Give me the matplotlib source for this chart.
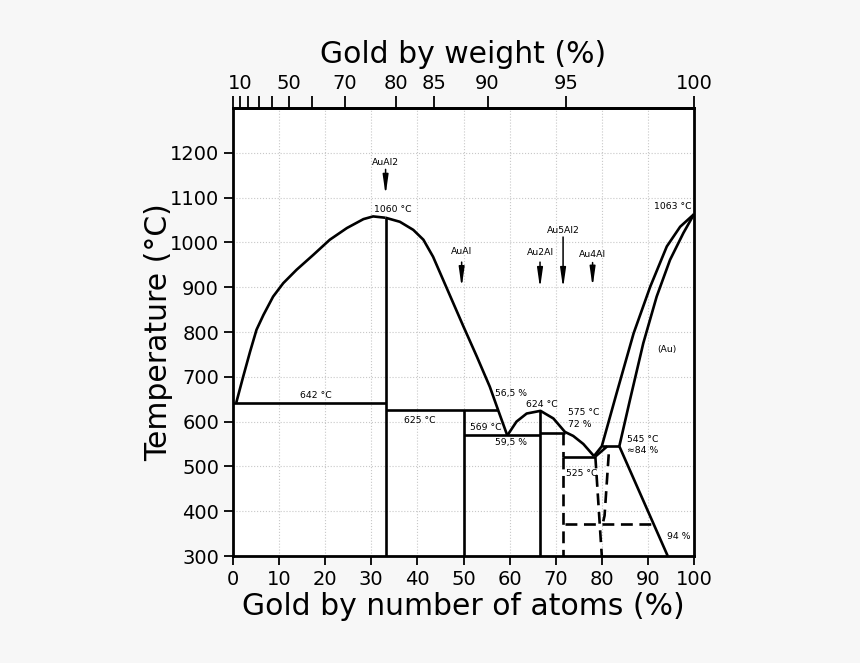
import numpy as np
import matplotlib
matplotlib.use('Agg')
import matplotlib.pyplot as plt

# ---------------- data (atomic % Au, temperature in °C) ----------------
liq_left_at = [0.7, 2.2, 3.7, 5.1, 6.6, 8.7, 10.9, 13.8, 17.4, 21.0, 24.7, 28.3, 30.4, 33.1]
liq_left_T = [642, 700, 756, 805, 838, 879, 909, 939, 972, 1006, 1032, 1052, 1058, 1055]

liq_mid_at = [33.1, 36.2, 39.1, 41.3, 43.4, 45.6, 47.8, 50.0, 52.9, 55.7, 57.5, 59.5]
liq_mid_T = [1055, 1046, 1028, 1006, 968, 916, 864, 812, 745, 678, 626, 569]

bump_at = [59.5, 61.5, 63.7, 66.7, 69.5, 72.0, 73.8, 76.0, 78.3]
bump_T = [569, 600, 618, 624, 607, 577, 568, 550, 523]

liq_right_at = [78.3, 80.0, 83.2, 86.9, 90.5, 94.1, 97.0, 100.0]
liq_right_T = [523, 545, 663, 797, 901, 991, 1035, 1063]

sol_right_at = [83.8, 86.1, 89.0, 91.9, 94.8, 97.7, 100.0]
sol_right_T = [545, 648, 775, 879, 961, 1021, 1063]

solvus_at = [83.8, 94.3]
solvus_T = [545, 300]

au4al_at = [78.6, 81.2]
au4al_T = [522, 545]

iso_T = [642, 625, 569, 575, 522, 545]
iso_start = [0.0, 33.1, 50.0, 66.7, 71.6, 80.0]
iso_end = [33.1, 57.5, 66.7, 72.0, 78.6, 83.8]

comp_at = [33.1, 50.0, 66.7]
comp_top = [1055, 625, 624]

dash_lines_at = [[71.6, 71.6], [71.6, 71.6], [78.6, 80.0], [81.5, 80.6, 80.2], [72.0, 91.3]]
dash_lines_T = [[575, 522], [522, 300], [522, 300], [527, 390, 372], [371, 371]]

phase_names = ['AuAl2', 'AuAl', 'Au2Al', 'Au5Al2', 'Au4Al']
phase_at = [33.1, 49.6, 66.6, 71.6, 78.0]
phase_text_T = [1178, 980, 977, 1026, 972]
phase_tail_T = [1163, 956, 956, 1012, 955]
phase_tip_T = [1106, 900, 898, 898, 901]

note_texts = ['1060 °C', '642 °C', '625 °C', '569 °C', '56,5 %', '624 °C', '59,5 %',
              '525 °C', '94 %', '1063 °C', '(Au)']
note_at = [34.6, 17.9, 40.5, 54.8, 60.4, 67.0, 60.2, 75.6, 96.7, 95.3, 94.1]
note_T = [1074, 659, 602, 586, 662, 639, 554, 485, 343, 1080, 760]

left_texts = ['575 °C', '72 %', '545 °C', '≈84 %']
left_at = [72.7, 72.7, 85.4, 85.4]
left_T = [621, 594, 559, 535]

x_ticks = [0, 10, 20, 30, 40, 50, 60, 70, 80, 90, 100]
y_ticks = [300, 400, 500, 600, 700, 800, 900, 1000, 1100, 1200]
wt_ticks = [0, 10, 20, 30, 40, 50, 60, 70, 80, 85, 90, 95, 100]
wt_labels = ['', '10', '', '', '', '50', '', '70', '80', '85', '90', '95', '100']

M_AU, M_AL = 196.97, 26.98


def at_to_wt(a):
    a = np.clip(np.asarray(a, dtype=float), 0, 100)
    return 100 * a * M_AU / (a * M_AU + (100 - a) * M_AL)


def wt_to_at(w):
    w = np.clip(np.asarray(w, dtype=float), 0, 100)
    return 100 * (w / M_AU) / (w / M_AU + (100 - w) / M_AL)


# ---------------- figure ----------------
fig = plt.figure(figsize=(8.6, 6.63), dpi=100, facecolor='#f7f7f7')
ax = fig.add_axes([233 / 860, 1 - 556 / 663, 461 / 860, 448 / 663])
ax.set_facecolor('white')
ax.set_xlim(0, 100)
ax.set_ylim(300, 1300)

lw = 1.9
kw = dict(color='black', lw=lw, solid_capstyle='butt', solid_joinstyle='round')
for xs, ys in [(liq_left_at, liq_left_T), (liq_mid_at, liq_mid_T), (bump_at, bump_T),
               (liq_right_at, liq_right_T), (sol_right_at, sol_right_T),
               (solvus_at, solvus_T), (au4al_at, au4al_T)]:
    ax.plot(xs, ys, **kw)

for T, a0, a1 in zip(iso_T, iso_start, iso_end):
    ax.plot([a0, a1], [T, T], **kw)

for a, top in zip(comp_at, comp_top):
    ax.plot([a, a], [300, top], **kw)

for xs, ys in zip(dash_lines_at, dash_lines_T):
    ax.plot(xs, ys, color='black', lw=lw, linestyle=(0, (4.5, 2.5)), dash_capstyle='butt')

small = 6.7
for name, a, tT, t0, t1 in zip(phase_names, phase_at, phase_text_T, phase_tail_T, phase_tip_T):
    ax.text(a, tT, name, ha='center', va='center', fontsize=small)
    ax.annotate('', xy=(a, t1), xytext=(a, t0),
                arrowprops=dict(arrowstyle='-|>,head_length=1.05,head_width=0.15',
                                color='black', lw=1.1, mutation_scale=11,
                                shrinkA=0, shrinkB=0))

for s, a, T in zip(note_texts, note_at, note_T):
    ax.text(a, T, s, ha='center', va='center', fontsize=small)
for s, a, T in zip(left_texts, left_at, left_T):
    ax.text(a, T, s, ha='left', va='center', fontsize=small)

# grid
ax.set_xticks(x_ticks)
ax.set_yticks(y_ticks)
ax.grid(True, color='#c8c8c8', linestyle=':', linewidth=0.8)
ax.set_axisbelow(True)

for sp in ax.spines.values():
    sp.set_linewidth(2.0)

ax.tick_params(axis='both', direction='out', length=6.5, width=1.3, labelsize=14)
ax.tick_params(axis='x', top=False)
ax.tick_params(axis='y', right=False)

ax.set_xlabel('Gold by number of atoms (%)', fontsize=21.5, labelpad=2)
ax.set_ylabel('Temperature (°C)', fontsize=21.5, labelpad=-2)

sec = ax.secondary_xaxis('top', functions=(at_to_wt, wt_to_at))
sec.set_xticks(wt_ticks, wt_labels)
sec.tick_params(direction='out', length=8.5, width=1.3, labelsize=14, pad=2)
sec.spines['top'].set_linewidth(2.0)
sec.set_xlabel('Gold by weight (%)', fontsize=21.5, labelpad=8)

fig.savefig('out.png', dpi=100, facecolor=fig.get_facecolor())
